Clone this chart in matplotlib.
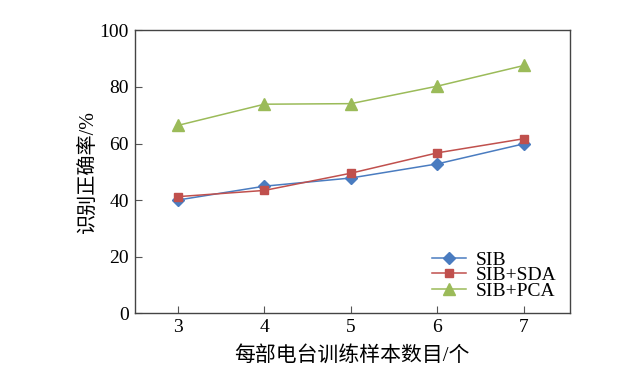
import matplotlib
matplotlib.use("Agg")
import matplotlib.pyplot as plt

samples = [3, 4, 5, 6, 7]
sib = [40.0, 44.9, 47.8, 52.8, 59.9]
sib_sda = [41.2, 43.4, 49.5, 56.7, 61.7]
sib_pca = [66.4, 73.9, 74.1, 80.3, 87.6]
series_names = ["SIB", "SIB+SDA", "SIB+PCA"]
y_ticks = [0, 20, 40, 60, 80, 100]
x_label = "每部电台训练样本数目/个"
y_label = "识别正确率/%"

plt.rcParams['font.family'] = ['Liberation Serif', 'Noto Sans CJK SC']

fig = plt.figure(figsize=(6.41, 3.71), dpi=100)
ax = fig.add_axes([0.210, 0.156, 0.679, 0.762])

ax.plot(samples, sib, color='#4A7CC0', marker='D', markersize=6, lw=1.1, label=series_names[0])
ax.plot(samples, sib_sda, color='#C0504D', marker='s', markersize=6, lw=1.1, label=series_names[1])
ax.plot(samples, sib_pca, color='#9BBB59', marker='^', markersize=9, lw=1.1, label=series_names[2])

ax.set_xlim(2.5, 7.53)
ax.set_ylim(0, 100)
ax.set_xticks(samples)
ax.set_yticks(y_ticks)
ax.tick_params(direction='in', length=5, width=0.8, labelsize=14, color='#555555', pad=4,
               top=False, right=False)
for s in ax.spines.values():
    s.set_color('#444444')
    s.set_linewidth(1.0)

ax.set_xlabel(x_label, fontsize=15, labelpad=7)
ax.set_ylabel(y_label, fontsize=14.5, labelpad=1)

leg = ax.legend(loc='lower right', bbox_to_anchor=(1.0, 0.0), frameon=False, fontsize=14,
                labelspacing=-0.12, handlelength=1.75, handletextpad=0.5, borderaxespad=0.6,
                borderpad=0.1)

fig.savefig("out.png", dpi=100)
